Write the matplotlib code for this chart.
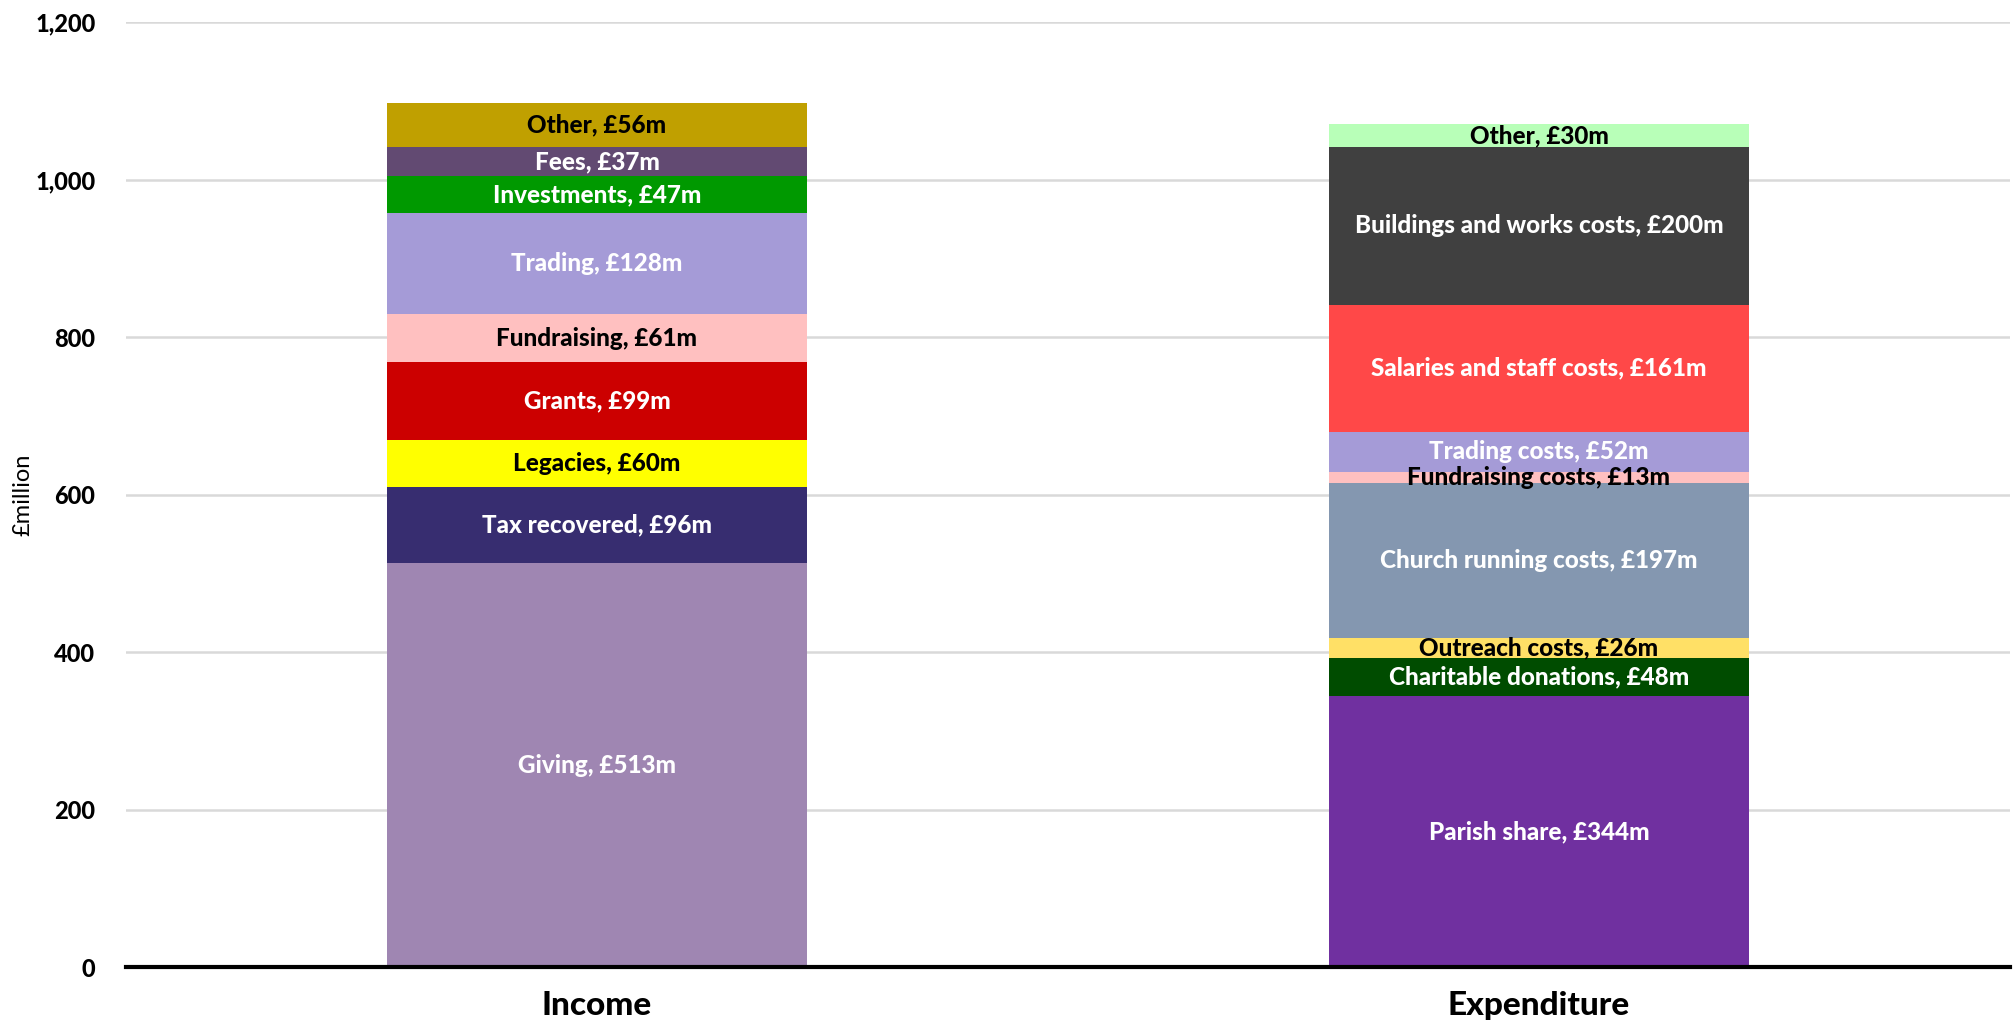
import numpy as np
import matplotlib.pyplot as plt

plt.rcParams['font.family'] = ['Lato', 'DejaVu Sans']

# income, bottom to top
inc_names = ['Giving', 'Tax recovered', 'Legacies', 'Grants', 'Fundraising',
             'Trading', 'Investments', 'Fees', 'Other']
inc_vals = [513, 96, 60, 99, 61, 128, 47, 37, 56]
inc_colors = ['#9F86B2', '#372D70', '#FFFF00', '#CC0000', '#FFC0C0',
              '#A59BD7', '#009900', '#624A72', '#C0A000']
inc_text = ['white', 'white', 'black', 'white', 'black',
            'white', 'white', 'white', 'black']

# expenditure, bottom to top
exp_names = ['Parish share', 'Charitable donations', 'Outreach costs',
             'Church running costs', 'Fundraising costs', 'Trading costs',
             'Salaries and staff costs', 'Buildings and works costs', 'Other']
exp_vals = [344, 48, 26, 197, 13, 52, 161, 200, 30]
exp_colors = ['#7030A0', '#004C00', '#FFE066', '#8497B0', '#FFC0C0',
              '#A59BD7', '#FF4848', '#404040', '#B8FFB8']
exp_text = ['white', 'white', 'black', 'white', 'black',
            'white', 'white', 'white', 'black']

categories = ['Income', 'Expenditure']

fig = plt.figure(figsize=(20.15, 10.23), dpi=100)
ax = fig.add_axes([0.0625, 0.0547, 0.935, 0.9238])

width = 0.445
for x, names, vals, cols, tcols in [(0, inc_names, inc_vals, inc_colors, inc_text),
                                     (1, exp_names, exp_vals, exp_colors, exp_text)]:
    bottom = 0
    for n, v, c, tc in zip(names, vals, cols, tcols):
        ax.bar(x, v, width=width, bottom=bottom, color=c, zorder=3)
        ax.text(x, bottom + v / 2, f'{n}, £{v}m', ha='center', va='center',
                color=tc, fontsize=17.5, fontweight='black', zorder=4)
        bottom += v

ax.set_xlim(-0.5, 1.5)
ax.set_ylim(0, 1200)
ax.set_yticks(np.arange(0, 1201, 200))
ax.set_yticklabels([f'{v:,}' for v in range(0, 1201, 200)],
                   fontsize=17, fontweight='black')
ax.set_xticks([0, 1])
ax.set_xticklabels(categories, fontsize=24, fontweight='black')
ax.tick_params(axis='y', length=0, pad=22)
ax.tick_params(axis='x', length=0, pad=17)
ax.grid(axis='y', color='#D9D9D9', linewidth=1.8, zorder=0)
for s in ['top', 'right', 'left']:
    ax.spines[s].set_visible(False)
ax.spines['bottom'].set_linewidth(3)
ax.spines['bottom'].set_zorder(5)
ax.set_ylabel('£million', fontsize=17)
ax.yaxis.set_label_coords(-0.049, 0.5)

fig.savefig('out.png', dpi=100)
